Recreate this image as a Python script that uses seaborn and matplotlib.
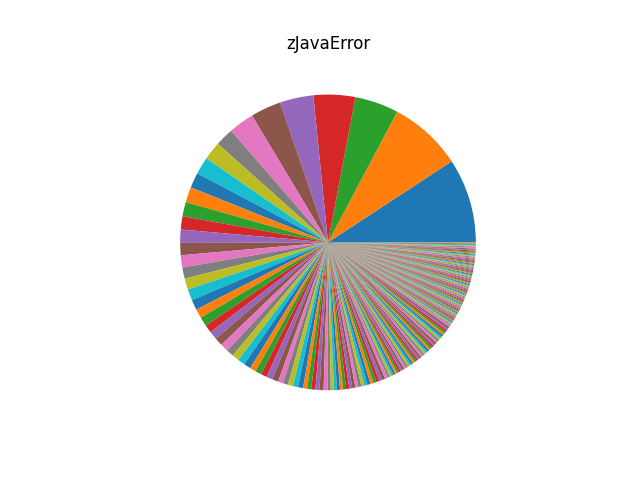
import matplotlib
matplotlib.use("Agg")
import matplotlib.pyplot as plt
import seaborn as sns

# error counts per category, sorted largest first
top_counts = [83, 72, 43, 41, 33, 30, 25, 18, 18, 17, 15, 15, 14, 13, 13,
              12, 12, 11, 11, 11, 10, 9, 9]
mid_counts = [8, 8, 8, 8, 7, 7, 7, 7, 6, 6, 6, 6, 6, 5, 5, 5, 5, 5,
              4, 4, 4, 4, 4, 4]
tail_counts = ([3] * 20) + ([2] * 40) + ([1] * 85)

counts = top_counts + mid_counts + tail_counts
title = "zJavaError"

colors = sns.color_palette("tab10", 10)

fig, ax = plt.subplots(figsize=(6.4, 4.8), dpi=100)
ax.pie(counts, colors=colors)
ax.set_title(title)
plt.savefig("out.png")
